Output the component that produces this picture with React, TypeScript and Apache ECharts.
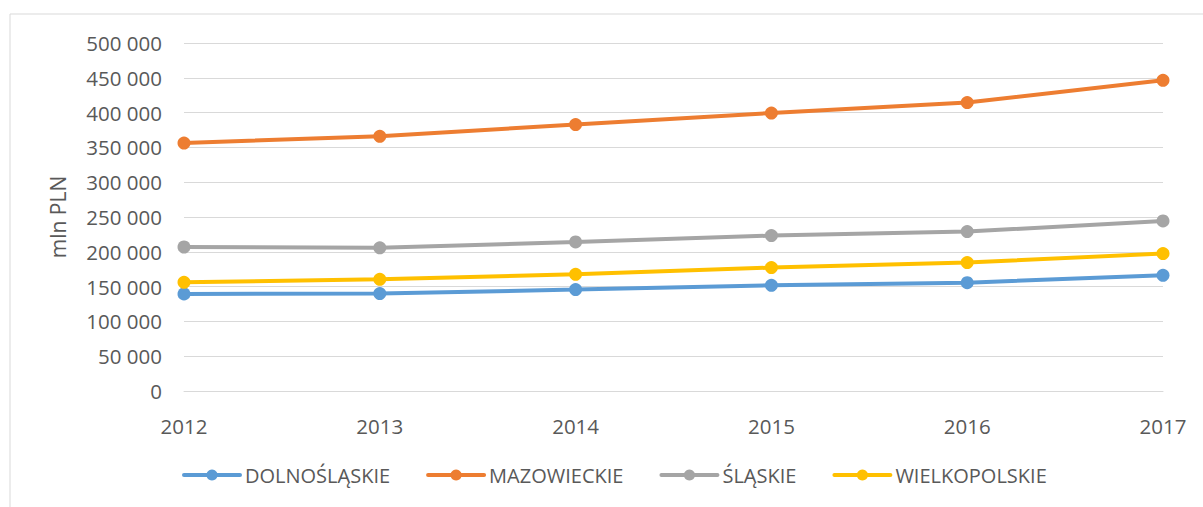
import React, { useEffect, useRef } from "react";
import * as echarts from "echarts";

const years = ["2012", "2013", "2014", "2015", "2016", "2017"];
const dolnoslaskie = [139400, 140000, 145700, 151900, 155700, 166200];
const mazowieckie = [356300, 366000, 382800, 399400, 414400, 446400];
const slaskie = [206900, 205800, 214100, 223300, 229000, 244300];
const wielkopolskie = [156200, 160500, 167700, 177300, 184500, 197400];
const seriesNames = ["DOLNOŚLĄSKIE", "MAZOWIECKIE", "ŚLĄSKIE", "WIELKOPOLSKIE"];
const colors = ["#5B9BD5", "#ED7D31", "#A5A5A5", "#FFC000"];

const fmt = (v: number) => {
  if (v === 0) return "0";
  const s = String(v);
  return s.replace(/\B(?=(\d{3})+(?!\d))/g, " ");
};

export default function App() {
  const ref = useRef<HTMLDivElement>(null);
  useEffect(() => {
    if (!ref.current) return;
    const chart = echarts.init(ref.current, undefined, { renderer: "svg" });
    const font = "Open Sans";
    const data = [dolnoslaskie, mazowieckie, slaskie, wielkopolskie];
    chart.setOption({
      animation: false,
      textStyle: { fontFamily: font },
      graphic: [
        {
          type: "rect",
          shape: { x: 10, y: 14, width: 1200, height: 500 },
          style: { fill: "none", stroke: "#d9d9d9", lineWidth: 1 },
          silent: true,
        },
      ],
      grid: { left: 184, right: 40, top: 43, bottom: 116 },
      legend: {
        left: 182,
        top: 465,
        padding: 0,
        itemWidth: 56,
        itemHeight: 14,
        itemGap: 36,
        lineStyle: { width: 4, cap: "round" },
        textStyle: { fontFamily: font, fontSize: 20, color: "#595959" },
        data: seriesNames,
      },
      xAxis: {
        type: "category",
        data: years,
        boundaryGap: false,
        axisLine: { show: true, lineStyle: { color: "#d9d9d9" } },
        axisTick: { show: false },
        axisLabel: { fontFamily: font, fontSize: 20.5, color: "#595959", margin: 24 },
      },
      yAxis: {
        type: "value",
        min: 0,
        max: 500000,
        interval: 50000,
        name: "mln PLN",
        nameLocation: "middle",
        nameGap: 116,
        nameRotate: 90,
        nameTextStyle: { fontFamily: font, fontSize: 21, color: "#595959" },
        axisLine: { show: false },
        axisTick: { show: false },
        splitLine: { lineStyle: { color: "#d9d9d9", width: 1 } },
        axisLabel: {
          fontFamily: font,
          fontSize: 20.5,
          color: "#595959",
          margin: 22,
          formatter: (v: number) => fmt(v),
        },
      },
      series: seriesNames.map((name, i) => ({
        name,
        type: "line",
        data: data[i],
        symbol: "circle",
        symbolSize: 13,
        color: colors[i],
        lineStyle: { width: 4, color: colors[i] },
        itemStyle: { color: colors[i] },
      })),
    });
    return () => chart.dispose();
  }, []);
  return (
    <div
      ref={ref}
      style={{ position: "fixed", left: 0, top: 0, width: 1203, height: 507, background: "#fff" }}
    />
  );
}
